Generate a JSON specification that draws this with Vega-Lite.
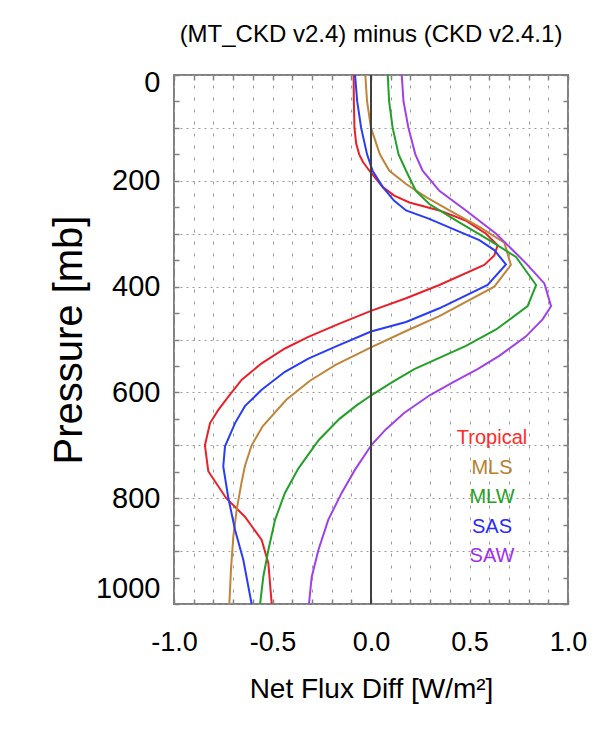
{
  "$schema": "https://vega.github.io/schema/vega-lite/v6.json",
  "width": 394,
  "height": 529,
  "autosize": {"type": "none"},
  "padding": {"left": 174, "top": 75, "right": 45, "bottom": 137},
  "background": "white",
  "title": {
    "text": "(MT_CKD v2.4) minus (CKD v2.4.1)",
    "font": "Liberation Sans",
    "fontSize": 24,
    "fontWeight": "normal",
    "color": "black",
    "anchor": "middle",
    "offset": 21
  },
  "config": {
    "font": "Liberation Sans",
    "view": {"stroke": "#808080", "strokeWidth": 2},
    "axis": {
      "domain": false,
      "tickColor": "#808080",
      "tickWidth": 1.5,
      "labelColor": "black",
      "titleColor": "black",
      "titleFontWeight": "normal",
      "labelFont": "Liberation Sans",
      "titleFont": "Liberation Sans"
    },
    "legend": {"labelFont": "Liberation Sans"}
  },
  "data": {
    "values": [
      {"profile": "Tropical", "p": 0, "diff": -0.088},
      {"profile": "Tropical", "p": 50, "diff": -0.087},
      {"profile": "Tropical", "p": 100, "diff": -0.084},
      {"profile": "Tropical", "p": 130, "diff": -0.075},
      {"profile": "Tropical", "p": 150, "diff": -0.06},
      {"profile": "Tropical", "p": 165, "diff": -0.04},
      {"profile": "Tropical", "p": 181, "diff": -0.008},
      {"profile": "Tropical", "p": 212, "diff": 0.06},
      {"profile": "Tropical", "p": 228, "diff": 0.118},
      {"profile": "Tropical", "p": 241, "diff": 0.195},
      {"profile": "Tropical", "p": 256, "diff": 0.347},
      {"profile": "Tropical", "p": 275, "diff": 0.48},
      {"profile": "Tropical", "p": 300, "diff": 0.584},
      {"profile": "Tropical", "p": 322, "diff": 0.643},
      {"profile": "Tropical", "p": 341, "diff": 0.626},
      {"profile": "Tropical", "p": 359, "diff": 0.575},
      {"profile": "Tropical", "p": 397, "diff": 0.347},
      {"profile": "Tropical", "p": 422, "diff": 0.178},
      {"profile": "Tropical", "p": 446, "diff": 0.0},
      {"profile": "Tropical", "p": 470, "diff": -0.16},
      {"profile": "Tropical", "p": 495, "diff": -0.318},
      {"profile": "Tropical", "p": 517, "diff": -0.437},
      {"profile": "Tropical", "p": 545, "diff": -0.555},
      {"profile": "Tropical", "p": 576, "diff": -0.656},
      {"profile": "Tropical", "p": 608, "diff": -0.724},
      {"profile": "Tropical", "p": 633, "diff": -0.775},
      {"profile": "Tropical", "p": 658, "diff": -0.817},
      {"profile": "Tropical", "p": 700, "diff": -0.843},
      {"profile": "Tropical", "p": 749, "diff": -0.826},
      {"profile": "Tropical", "p": 800, "diff": -0.735},
      {"profile": "Tropical", "p": 835, "diff": -0.64},
      {"profile": "Tropical", "p": 879, "diff": -0.555},
      {"profile": "Tropical", "p": 923, "diff": -0.521},
      {"profile": "Tropical", "p": 1000, "diff": -0.504},

      {"profile": "MLS", "p": 0, "diff": -0.029},
      {"profile": "MLS", "p": 50, "diff": -0.02},
      {"profile": "MLS", "p": 100, "diff": 0.0},
      {"profile": "MLS", "p": 150, "diff": 0.045},
      {"profile": "MLS", "p": 181, "diff": 0.093},
      {"profile": "MLS", "p": 206, "diff": 0.178},
      {"profile": "MLS", "p": 231, "diff": 0.28},
      {"profile": "MLS", "p": 256, "diff": 0.398},
      {"profile": "MLS", "p": 287, "diff": 0.55},
      {"profile": "MLS", "p": 317, "diff": 0.677},
      {"profile": "MLS", "p": 359, "diff": 0.71},
      {"profile": "MLS", "p": 400, "diff": 0.626},
      {"profile": "MLS", "p": 456, "diff": 0.347},
      {"profile": "MLS", "p": 484, "diff": 0.178},
      {"profile": "MLS", "p": 515, "diff": 0.0},
      {"profile": "MLS", "p": 548, "diff": -0.18},
      {"profile": "MLS", "p": 578, "diff": -0.31},
      {"profile": "MLS", "p": 614, "diff": -0.43},
      {"profile": "MLS", "p": 664, "diff": -0.55},
      {"profile": "MLS", "p": 700, "diff": -0.606},
      {"profile": "MLS", "p": 739, "diff": -0.64},
      {"profile": "MLS", "p": 772, "diff": -0.658},
      {"profile": "MLS", "p": 822, "diff": -0.682},
      {"profile": "MLS", "p": 873, "diff": -0.699},
      {"profile": "MLS", "p": 936, "diff": -0.711},
      {"profile": "MLS", "p": 1000, "diff": -0.719},

      {"profile": "MLW", "p": 0, "diff": 0.085},
      {"profile": "MLW", "p": 50, "diff": 0.092},
      {"profile": "MLW", "p": 100, "diff": 0.11},
      {"profile": "MLW", "p": 150, "diff": 0.14},
      {"profile": "MLW", "p": 181, "diff": 0.178},
      {"profile": "MLW", "p": 219, "diff": 0.228},
      {"profile": "MLW", "p": 244, "diff": 0.296},
      {"profile": "MLW", "p": 275, "diff": 0.431},
      {"profile": "MLW", "p": 312, "diff": 0.6},
      {"profile": "MLW", "p": 344, "diff": 0.736},
      {"profile": "MLW", "p": 397, "diff": 0.838},
      {"profile": "MLW", "p": 437, "diff": 0.795},
      {"profile": "MLW", "p": 481, "diff": 0.635},
      {"profile": "MLW", "p": 512, "diff": 0.482},
      {"profile": "MLW", "p": 556, "diff": 0.22},
      {"profile": "MLW", "p": 580, "diff": 0.11},
      {"profile": "MLW", "p": 605, "diff": 0.003},
      {"profile": "MLW", "p": 625, "diff": -0.075},
      {"profile": "MLW", "p": 650, "diff": -0.16},
      {"profile": "MLW", "p": 690, "diff": -0.265},
      {"profile": "MLW", "p": 744, "diff": -0.369},
      {"profile": "MLW", "p": 790, "diff": -0.437},
      {"profile": "MLW", "p": 841, "diff": -0.487},
      {"profile": "MLW", "p": 898, "diff": -0.521},
      {"profile": "MLW", "p": 949, "diff": -0.547},
      {"profile": "MLW", "p": 1000, "diff": -0.563},

      {"profile": "SAS", "p": 0, "diff": -0.081},
      {"profile": "SAS", "p": 50, "diff": -0.07},
      {"profile": "SAS", "p": 100, "diff": -0.05},
      {"profile": "SAS", "p": 150, "diff": -0.02},
      {"profile": "SAS", "p": 181, "diff": 0.008},
      {"profile": "SAS", "p": 212, "diff": 0.06},
      {"profile": "SAS", "p": 238, "diff": 0.118},
      {"profile": "SAS", "p": 256, "diff": 0.178},
      {"profile": "SAS", "p": 272, "diff": 0.296},
      {"profile": "SAS", "p": 291, "diff": 0.415},
      {"profile": "SAS", "p": 312, "diff": 0.55},
      {"profile": "SAS", "p": 331, "diff": 0.626},
      {"profile": "SAS", "p": 358, "diff": 0.685},
      {"profile": "SAS", "p": 397, "diff": 0.592},
      {"profile": "SAS", "p": 441, "diff": 0.347},
      {"profile": "SAS", "p": 467, "diff": 0.178},
      {"profile": "SAS", "p": 485, "diff": 0.0},
      {"profile": "SAS", "p": 514, "diff": -0.183},
      {"profile": "SAS", "p": 536, "diff": -0.318},
      {"profile": "SAS", "p": 561, "diff": -0.437},
      {"profile": "SAS", "p": 595, "diff": -0.555},
      {"profile": "SAS", "p": 626, "diff": -0.64},
      {"profile": "SAS", "p": 658, "diff": -0.69},
      {"profile": "SAS", "p": 702, "diff": -0.741},
      {"profile": "SAS", "p": 740, "diff": -0.75},
      {"profile": "SAS", "p": 800, "diff": -0.724},
      {"profile": "SAS", "p": 860, "diff": -0.69},
      {"profile": "SAS", "p": 917, "diff": -0.648},
      {"profile": "SAS", "p": 1000, "diff": -0.606},

      {"profile": "SAW", "p": 0, "diff": 0.156},
      {"profile": "SAW", "p": 50, "diff": 0.165},
      {"profile": "SAW", "p": 100, "diff": 0.19},
      {"profile": "SAW", "p": 150, "diff": 0.225},
      {"profile": "SAW", "p": 181, "diff": 0.262},
      {"profile": "SAW", "p": 219, "diff": 0.347},
      {"profile": "SAW", "p": 256, "diff": 0.482},
      {"profile": "SAW", "p": 300, "diff": 0.635},
      {"profile": "SAW", "p": 356, "diff": 0.787},
      {"profile": "SAW", "p": 394, "diff": 0.88},
      {"profile": "SAW", "p": 437, "diff": 0.914},
      {"profile": "SAW", "p": 462, "diff": 0.871},
      {"profile": "SAW", "p": 494, "diff": 0.787},
      {"profile": "SAW", "p": 531, "diff": 0.651},
      {"profile": "SAW", "p": 556, "diff": 0.541},
      {"profile": "SAW", "p": 580, "diff": 0.42},
      {"profile": "SAW", "p": 605, "diff": 0.3},
      {"profile": "SAW", "p": 639, "diff": 0.168},
      {"profile": "SAW", "p": 670, "diff": 0.075},
      {"profile": "SAW", "p": 699, "diff": 0.003},
      {"profile": "SAW", "p": 746, "diff": -0.081},
      {"profile": "SAW", "p": 790, "diff": -0.149},
      {"profile": "SAW", "p": 841, "diff": -0.217},
      {"profile": "SAW", "p": 898, "diff": -0.267},
      {"profile": "SAW", "p": 949, "diff": -0.301},
      {"profile": "SAW", "p": 1000, "diff": -0.315}
    ]
  },
  "resolve": {"axis": {"x": "independent", "y": "independent"}},
  "layer": [
    {
      "mark": {"type": "line", "strokeWidth": 2, "clip": true},
      "encoding": {
        "x": {
          "field": "diff",
          "type": "quantitative",
          "scale": {"domain": [-1, 1], "nice": false, "zero": false},
          "axis": {
            "orient": "bottom",
            "values": [-1, -0.9, -0.8, -0.7, -0.6, -0.5, -0.4, -0.3, -0.2, -0.1, 0, 0.1, 0.2, 0.3, 0.4, 0.5, 0.6, 0.7, 0.8, 0.9, 1],
            "labelExpr": "abs(datum.value*2 - round(datum.value*2)) < 0.001 ? (datum.value < -0.001 ? '-' : '') + format(abs(datum.value), '.1f') : ''",
            "labelFontSize": 27,
            "labelPadding": 30,
            "labelFlush": false,
            "labelOverlap": false,
            "tickSize": -5,
            "grid": true,
            "gridColor": "#9a9a9a",
            "gridDash": [3, 9],
            "gridWidth": 1,
            "title": "Net Flux Diff [W/m²]",
            "titleFontSize": 28,
            "titlePadding": 20
          }
        },
        "y": {
          "field": "p",
          "type": "quantitative",
          "scale": {"domain": [0, 1000], "reverse": true, "nice": false, "zero": false},
          "axis": {
            "orient": "left",
            "values": [0, 50, 100, 150, 200, 250, 300, 350, 400, 450, 500, 550, 600, 650, 700, 750, 800, 850, 900, 950, 1000],
            "labelExpr": "datum.value % 200 == 0 ? format(datum.value, 'd') : ''",
            "labelFontSize": 29,
            "labelPadding": 19,
            "labelFlush": false,
            "labelOffset": {"condition": [{"test": "datum.value == 0", "value": 7}, {"test": "datum.value == 1000", "value": -16}], "value": 0},
            "labelOverlap": false,
            "tickSize": -5,
            "grid": true,
            "gridColor": "#9a9a9a",
            "gridDash": [2, 4],
            "gridWidth": 1,
            "gridOpacity": {"condition": {"test": "datum.value % 100 == 0", "value": 1}, "value": 0},
            "title": "Pressure [mb]",
            "titleFontSize": 40,
            "titlePadding": 6
          }
        },
        "color": {
          "field": "profile",
          "type": "nominal",
          "scale": {
            "domain": ["Tropical", "MLS", "MLW", "SAS", "SAW"],
            "range": ["#e8202a", "#c0843a", "#22a028", "#2a3cf4", "#a040e8"]
          },
          "legend": {
            "orient": "none",
            "legendX": 298,
            "legendY": 353,
            "title": null,
            "symbolSize": 0,
            "symbolStrokeWidth": 0,
            "symbolOpacity": 0,
            "labelFontSize": 20,
            "labelAlign": "center",
            "labelOffset": 0,
            "rowPadding": 9.5,
            "encoding": {
              "labels": {
                "fill": {
                  "condition": [
                    {"test": "datum.value == 'Tropical'", "value": "#ff2a2a"},
                    {"test": "datum.value == 'MLS'", "value": "#b8802e"},
                    {"test": "datum.value == 'MLW'", "value": "#1fa01f"},
                    {"test": "datum.value == 'SAS'", "value": "#2a2aff"}
                  ],
                  "value": "#a030e8"
                }
              }
            }
          }
        },
        "order": {"field": "p", "type": "quantitative"}
      }
    },
    {
      "mark": {"type": "rule", "color": "#404040", "strokeWidth": 1},
      "encoding": {
        "x": {
          "datum": 0,
          "type": "quantitative",
          "axis": {
            "orient": "top",
            "values": [-1, -0.9, -0.8, -0.7, -0.6, -0.5, -0.4, -0.3, -0.2, -0.1, 0, 0.1, 0.2, 0.3, 0.4, 0.5, 0.6, 0.7, 0.8, 0.9, 1],
            "labels": false,
            "grid": false,
            "tickSize": -5,
            "title": null
          }
        },
        "y": {
          "datum": 0,
          "type": "quantitative",
          "axis": {
            "orient": "right",
            "values": [0, 50, 100, 150, 200, 250, 300, 350, 400, 450, 500, 550, 600, 650, 700, 750, 800, 850, 900, 950, 1000],
            "labels": false,
            "grid": false,
            "tickSize": -5,
            "title": null
          }
        },
        "y2": {"datum": 1000}
      }
    }
  ]
}
